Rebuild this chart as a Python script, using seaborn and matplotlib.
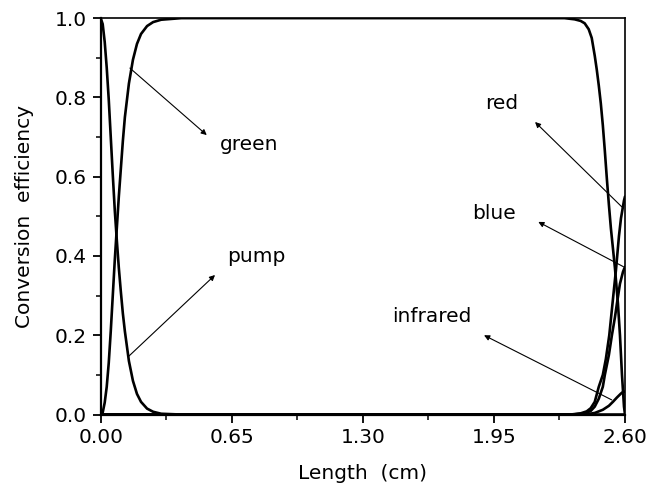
import numpy as np
import pandas as pd
import matplotlib
matplotlib.use("Agg")
import matplotlib.pyplot as plt
import seaborn as sns

# values
pump_x = [0.0, 0.01, 0.02, 0.03, 0.04, 0.05, 0.06, 0.07, 0.08, 0.09, 0.10, 0.11,
          0.12, 0.14, 0.16, 0.18, 0.20, 0.23, 0.26, 0.30, 0.40, 1.00, 2.00, 2.60]
pump_y = [1.0, 0.985, 0.94, 0.875, 0.795, 0.70, 0.605, 0.515, 0.44, 0.37, 0.31, 0.255,
          0.21, 0.135, 0.085, 0.052, 0.032, 0.015, 0.007, 0.002, 0.0, 0.0, 0.0, 0.0]

green_x = [0.0, 0.01, 0.02, 0.03, 0.04, 0.05, 0.06, 0.07, 0.08, 0.09, 0.10, 0.11,
           0.12, 0.14, 0.16, 0.18, 0.20, 0.23, 0.26, 0.30, 0.40, 1.00, 2.00, 2.30,
           2.35, 2.38, 2.40, 2.42, 2.435, 2.45, 2.46, 2.47, 2.48, 2.49, 2.50, 2.51,
           2.52, 2.53, 2.54, 2.55, 2.565, 2.575, 2.585, 2.595, 2.60]
green_y = [0.0, 0.005, 0.03, 0.07, 0.13, 0.21, 0.30, 0.39, 0.47, 0.55, 0.62, 0.69,
           0.75, 0.835, 0.895, 0.935, 0.96, 0.98, 0.99, 0.996, 1.0, 1.0, 1.0, 1.0,
           0.997, 0.993, 0.987, 0.972, 0.95, 0.905, 0.87, 0.83, 0.785, 0.73, 0.665, 0.595,
           0.53, 0.47, 0.42, 0.37, 0.28, 0.20, 0.10, 0.02, 0.0]

red_x = [0.0, 2.00, 2.33, 2.38, 2.41, 2.43, 2.45, 2.47, 2.49, 2.505, 2.522, 2.532,
         2.542, 2.555, 2.57, 2.58, 2.587, 2.595, 2.60]
red_y = [0.0, 0.0, 0.0, 0.003, 0.008, 0.016, 0.032, 0.07, 0.10, 0.14, 0.20, 0.25,
         0.30, 0.364, 0.45, 0.495, 0.516, 0.54, 0.55]

blue_x = [0.0, 2.00, 2.34, 2.40, 2.43, 2.45, 2.47, 2.49, 2.50, 2.52, 2.535, 2.55,
          2.56, 2.575, 2.59, 2.60]
blue_y = [0.0, 0.0, 0.0, 0.003, 0.009, 0.02, 0.04, 0.07, 0.10, 0.15, 0.20, 0.245,
          0.28, 0.33, 0.36, 0.373]

ir_x = [0.0, 2.00, 2.40, 2.45, 2.49, 2.52, 2.54, 2.56, 2.58, 2.59, 2.60]
ir_y = [0.0, 0.0, 0.0, 0.004, 0.012, 0.022, 0.032, 0.043, 0.053, 0.057, 0.058]

x_ticks = [0.00, 0.65, 1.30, 1.95, 2.60]
x_labels = ["0.00", "0.65", "1.30", "1.95", "2.60"]
y_ticks = [0.0, 0.2, 0.4, 0.6, 0.8, 1.0]
y_labels = ["0.0", "0.2", "0.4", "0.6", "0.8", "1.0"]

sns.set_style("ticks")
plt.rcParams["font.family"] = ["DejaVu Sans"]
plt.rcParams["text.color"] = "black"
plt.rcParams["axes.labelcolor"] = "black"
plt.rcParams["xtick.color"] = "black"
plt.rcParams["ytick.color"] = "black"
plt.rcParams["axes.edgecolor"] = "black"

FS = 14.5

fig = plt.figure(figsize=(6.47, 4.90), dpi=100)
ax = fig.add_axes([0.1556, 0.154, 0.8104, 0.809])

for xs, ys in [(pump_x, pump_y), (green_x, green_y), (red_x, red_y),
               (blue_x, blue_y), (ir_x, ir_y)]:
    sns.lineplot(x=xs, y=ys, ax=ax, color="black", linewidth=1.9,
                 sort=False, estimator=None)

ax.set_xlim(0, 2.6)
ax.set_ylim(0, 1.0)
ax.set_xticks(x_ticks)
ax.set_xticklabels(x_labels)
ax.set_yticks(y_ticks)
ax.set_yticklabels(y_labels)
ax.set_xticks([0.325, 0.975, 1.625, 2.275], minor=True)
ax.set_yticks([0.1, 0.3, 0.5, 0.7, 0.9], minor=True)
ax.tick_params(axis="both", which="major", direction="out", length=6,
               width=1.3, labelsize=FS, pad=4, colors="black")
ax.tick_params(axis="both", which="minor", direction="out", length=3.5,
               width=1.1)
for side in ["left", "bottom"]:
    ax.spines[side].set_linewidth(1.6)
for side in ["top", "right"]:
    ax.spines[side].set_visible(True)
    ax.spines[side].set_linewidth(1.2)

ax.set_xlabel("Length  (cm)", fontsize=FS, labelpad=12)
ax.set_ylabel("Conversion  efficiency", fontsize=FS, labelpad=15)

arrow = dict(arrowstyle="-|>", color="black", lw=0.8, mutation_scale=8,
             shrinkA=0, shrinkB=0)
ax.annotate("", xy=(0.526, 0.705), xytext=(0.145, 0.874), arrowprops=arrow)
ax.text(0.592, 0.68, "green", fontsize=FS, va="center", ha="left")
ax.annotate("", xy=(0.567, 0.352), xytext=(0.137, 0.146), arrowprops=arrow)
ax.text(0.625, 0.398, "pump", fontsize=FS, va="center", ha="left")
ax.annotate("", xy=(2.154, 0.738), xytext=(2.584, 0.524), arrowprops=arrow)
ax.text(1.99, 0.785, "red", fontsize=FS, va="center", ha="center")
ax.annotate("", xy=(2.170, 0.486), xytext=(2.592, 0.373), arrowprops=arrow)
ax.text(1.951, 0.507, "blue", fontsize=FS, va="center", ha="center")
ax.annotate("", xy=(1.901, 0.200), xytext=(2.534, 0.037), arrowprops=arrow)
ax.text(1.841, 0.247, "infrared", fontsize=FS, va="center", ha="right")

fig.savefig("out.png", dpi=100)
